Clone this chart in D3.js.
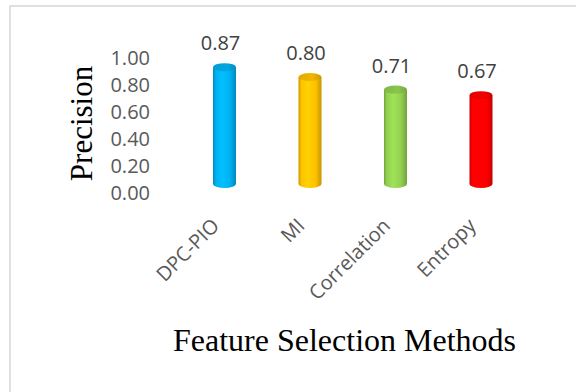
<!DOCTYPE html>
<html>
<head>
<meta charset="utf-8">
<script src="https://cdn.jsdelivr.net/npm/d3@7"></script>
<style>
  html, body { margin: 0; padding: 0; background: #fff; }
  svg { display: block; }
</style>
</head>
<body>
<svg id="chart" width="576" height="392"></svg>
<script>
// Precision of each feature selection method
const categories = ["DPC-PIO", "MI", "Correlation", "Entropy"];
const precision = [0.87, 0.80, 0.71, 0.67];
const tickValues = [0, 0.2, 0.4, 0.6, 0.8, 1.0];
const barColors = ["#00B0F0", "#FFC000", "#92D050", "#FF0000"];

const svg = d3.select("#chart");
const W = 576, H = 392;

svg.append("rect").attr("width", W).attr("height", H).attr("fill", "#fff");

// chart frame (only the top and left edges fall inside the canvas)
svg.append("rect")
  .attr("x", 10).attr("y", 6)
  .attr("width", W + 20).attr("height", H + 20)
  .attr("fill", "none")
  .attr("stroke", "#d9d9d9")
  .attr("stroke-width", 1.6);

// value axis and the 3-D bar depth use slightly different vertical scales
const yAxisScale = d3.scaleLinear().domain([0, 1]).range([192, 57]);
const yBar = d3.scaleLinear().domain([0, 1]).range([189, 49]);
const x = d3.scalePoint().domain(categories).range([181.75, 523.75]).padding(0.5);

const barW = 23, ry = 4, floorY = 184;

// y axis: labels only
const yAxis = svg.append("g")
  .attr("transform", "translate(150,0)")
  .call(d3.axisLeft(yAxisScale).tickValues(tickValues).tickFormat(d3.format(".2f")).tickSize(0).tickPadding(0));
yAxis.select(".domain").remove();
yAxis.selectAll("text")
  .attr("font-family", "'Open Sans', sans-serif")
  .attr("font-size", 20)
  .attr("fill", "#595959")
  .attr("dy", "0.35em");

// gradients for the cylinder shading
const defs = svg.append("defs");
barColors.forEach((c, i) => {
  const base = d3.color(c);
  const dark = base.darker(0.7);
  const light = base.brighter(0.25);
  const g = defs.append("linearGradient").attr("id", "body" + i)
    .attr("x1", "0%").attr("x2", "100%").attr("y1", "0%").attr("y2", "0%");
  [[0, dark], [0.12, base], [0.4, light], [0.75, base], [1, dark]].forEach(([o, col]) =>
    g.append("stop").attr("offset", o).attr("stop-color", col.formatHex()));
  const t = defs.append("linearGradient").attr("id", "top" + i)
    .attr("x1", "0%").attr("x2", "100%").attr("y1", "0%").attr("y2", "0%");
  [[0, base.darker(0.35)], [0.6, base.darker(0.15)], [1, base.darker(0.6)]].forEach(([o, col]) =>
    t.append("stop").attr("offset", o).attr("stop-color", col.formatHex()));
});

const data = categories.map((c, i) => ({ cat: c, v: precision[i], i }));

const bars = svg.append("g").selectAll("g").data(data).join("g");

bars.append("path")
  .attr("d", d => {
    const cx = x(d.cat), l = cx - barW / 2, r = cx + barW / 2, t = yBar(d.v);
    return `M${l},${t} L${l},${floorY} A${barW / 2},${ry} 0 0 0 ${r},${floorY} L${r},${t} Z`;
  })
  .attr("fill", d => `url(#body${d.i})`);

bars.append("ellipse")
  .attr("cx", d => x(d.cat))
  .attr("cy", d => yBar(d.v))
  .attr("rx", barW / 2)
  .attr("ry", ry)
  .attr("fill", d => `url(#top${d.i})`);

// value labels
bars.append("text")
  .attr("x", d => x(d.cat) - 4)
  .attr("y", d => yBar(d.v) - 17)
  .attr("text-anchor", "middle")
  .attr("font-family", "'Open Sans', sans-serif")
  .attr("font-size", 20)
  .attr("fill", "#404040")
  .text(d => d3.format(".2f")(d.v));

// category labels, rotated
svg.append("g").selectAll("text").data(categories).join("text")
  .attr("transform", d => `translate(${x(d) - 4},227) rotate(-45)`)
  .attr("text-anchor", "end")
  .attr("font-family", "'Open Sans', sans-serif")
  .attr("font-size", 20)
  .attr("fill", "#595959")
  .text(d => d);

// axis titles
svg.append("text")
  .attr("transform", "translate(92,123.5) rotate(-90)")
  .attr("text-anchor", "middle")
  .attr("font-family", "'Liberation Serif', 'Times New Roman', serif")
  .attr("font-size", 31)
  .attr("fill", "#000")
  .text("Precision");

svg.append("text")
  .attr("x", 344.5).attr("y", 351)
  .attr("text-anchor", "middle")
  .attr("font-family", "'Liberation Serif', 'Times New Roman', serif")
  .attr("font-size", 32)
  .attr("fill", "#000")
  .text("Feature Selection Methods");
</script>
</body>
</html>
